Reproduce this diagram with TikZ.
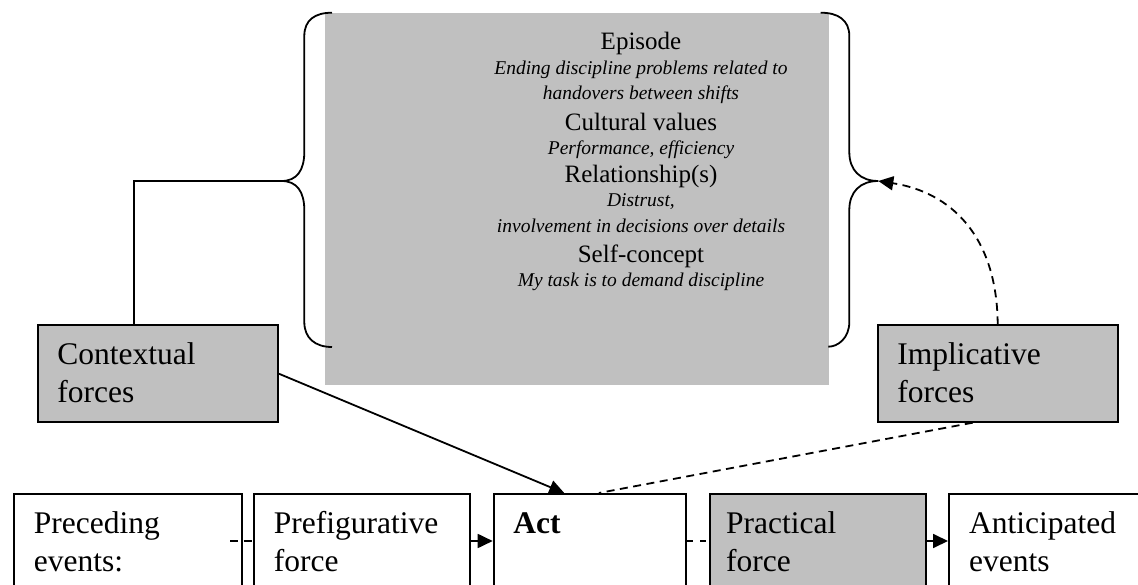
\documentclass[tikz,border=0pt]{standalone}
\usepackage{fontspec}
\setmainfont{Liberation Serif}
\usetikzlibrary{arrows.meta,calc}
\definecolor{boxgray}{RGB}{192,192,192}
% two stacked lines whose baseline is the first line's baseline
\newcommand\twolines[2]{\vtop{\baselineskip=38pt\hbox{#1}\hbox{#2}}}

\begin{document}
\begin{tikzpicture}[x=1pt,y=-1pt,
  plainbox/.style={draw=black,line width=2pt,inner sep=0pt,anchor=north west},
  greybox/.style={plainbox,fill=boxgray},
  boxtext/.style={inner sep=0pt,anchor=base west,font=\fontsize{31.5}{38}\selectfont},
  headtext/.style={inner sep=0pt,anchor=base,font=\fontsize{25}{30}\selectfont},
  subtext/.style={inner sep=0pt,anchor=base,font=\fontsize{19.5}{23}\selectfont\itshape},
  link/.style={line width=1.8pt},
  tip/.style={-{Triangle[length=15pt,width=14pt]}},
  dashlink/.style={link,dash pattern=on 8pt off 5.5pt}
]
\useasboundingbox (0,0) rectangle (1138,585);
\begin{scope}
\clip (0,0) rectangle (1138,585);

% central panel with the episode description
\node[fill=boxgray,inner sep=0pt,anchor=north west,minimum width=504pt,minimum height=371.8pt] (core) at (325,12.7) {};
\coordinate (mid) at (641,0);
\node[headtext] (episode)  at (mid |- 0,50)  {Episode};
\node[subtext]  (episode1) at (mid |- 0,75)  {Ending discipline problems related to};
\node[subtext]  (episode2) at (mid |- 0,100) {handovers between shifts};
\node[headtext] (culture)  at (mid |- 0,131) {Cultural values};
\node[subtext]  (culture1) at (mid |- 0,155) {Performance, efficiency};
\node[headtext] (relation) at (mid |- 0,183) {Relationship(s)};
\node[subtext]  (relation1) at (mid |- 0,207) {Distrust,};
\node[subtext]  (relation2) at (mid |- 0,233) {involvement in decisions over details};
\node[headtext] (self)     at (mid |- 0,263) {Self-concept};
\node[subtext]  (self1)    at (mid |- 0,287) {My task is to demand discipline};

% braces around the panel
\coordinate (lcusp) at (281.7,181);
\coordinate (rcusp) at (878.3,181);
\draw[link] (332,12.7) .. controls (315,12.7) and (304.3,20) .. (304.3,36)
  -- (304.3,152) .. controls (304.3,170) and (297,181) .. (lcusp)
  .. controls (297,181) and (304.3,192) .. (304.3,210)
  -- (304.3,322) .. controls (304.3,338) and (315,347) .. (332,347);
\draw[link] (820.7,12.7) .. controls (838,12.7) and (849.3,20) .. (849.3,36)
  -- (849.3,152) .. controls (849.3,170) and (860,181) .. (rcusp)
  .. controls (860,181) and (849.3,192) .. (849.3,210)
  -- (849.3,322) .. controls (849.3,338) and (838,346.7) .. (828.3,346.7);

% forces
\node[greybox,minimum width=240pt,minimum height=96.7pt] (ctx) at (36.7,324.3) {};
\node[boxtext] (ctxtext) at ($(ctx.north west)+(20.5,40)$) {\twolines{Contextual}{forces}};
\node[greybox,minimum width=240pt,minimum height=96.4pt] (impl) at (876.7,324.3) {};
\node[boxtext] (impltext) at ($(impl.north west)+(20.5,40)$) {\twolines{Implicative}{forces}};

% sequence of events
\node[plainbox,minimum width=228.4pt,minimum height=130pt] (prec) at (12.6,493) {};
\node[boxtext] (prectext) at ($(prec.north west)+(21,40)$) {\twolines{Preceding}{events:}};
\node[plainbox,minimum width=216.7pt,minimum height=130pt] (pref) at (252.6,493) {};
\node[boxtext] (preftext) at ($(pref.north west)+(21,40)$) {\twolines{Prefigurative}{force}};
\node[plainbox,minimum width=192.3pt,minimum height=130pt] (act) at (492.7,493) {};
\node[boxtext] (acttext) at ($(act.north west)+(20.5,40)$) {\bfseries Act};
\node[greybox,minimum width=216pt,minimum height=130pt] (prac) at (709,493) {};
\node[boxtext] (practext) at ($(prac.north west)+(17,40)$) {\twolines{Practical}{force}};
\node[plainbox,minimum width=220pt,minimum height=130pt] (ant) at (948,493) {};
\node[boxtext] (anttext) at ($(ant.north west)+(21,40)$) {\twolines{Anticipated}{events}};

% connectors
\draw[link] ([xshift=-23.4pt]ctx.north) |- (lcusp);
\draw[link,tip] (ctx.east) -- ([xshift=-25.6pt]act.north);
\draw[dashlink,tip] (impl.north) .. controls (997,235) and (950,192) .. (rcusp);
\draw[dashlink] ([xshift=-25pt]impl.south) -- ([xshift=9pt]act.north);

\draw[dashlink] ([shift={(-13pt,-48pt)}]prec.north east) -- ([yshift=-48pt]pref.north west);
\draw[link,tip] ([yshift=-48pt]pref.north east) -- ([yshift=-48pt]act.north west);
\draw[link,dash pattern=on 6pt off 7pt] ([yshift=-48pt]act.north east) -- ([yshift=-48pt]prac.north west);
\draw[link,tip] ([yshift=-48pt]prac.north east) -- ([yshift=-48pt]ant.north west);
\end{scope}
\end{tikzpicture}
\end{document}
